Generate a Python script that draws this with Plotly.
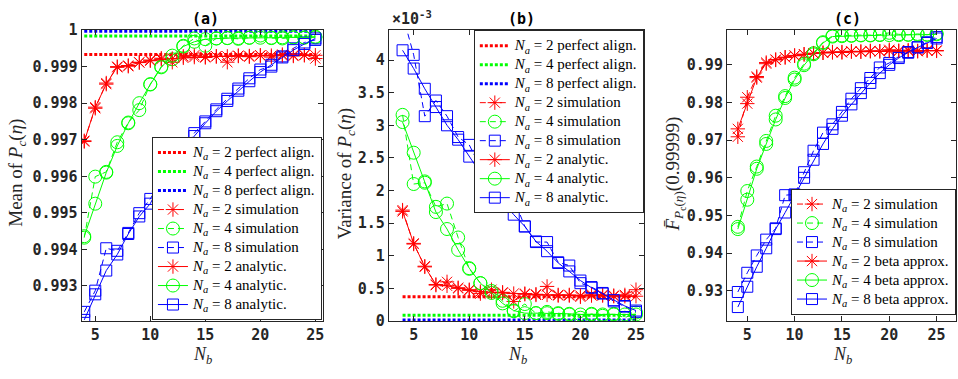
import plotly.graph_objects as go

W, H = 958, 379

Nb = list(range(4, 26))
na_labels = ["2", "4", "8"]
colors = ["#FF0000", "#00FF00", "#0000FF"]
symbols = ["asterisk-open", "circle-open", "square-open"]
msizes = [12, 13, 11]

# ---------- (a) mean of Pc ----------
mean_perfect = [0.99933, 0.99984, 0.99997]
mean_sim_na2 = [0.99697, 0.99786, 0.99855, 0.99898, 0.99901, 0.99912, 0.99918, 0.99923, 0.99912, 0.99928, 0.99931,
                0.99925, 0.99928, 0.99912, 0.99930, 0.99927, 0.99931, 0.99926, 0.99933, 0.99929, 0.99932, 0.99922]
mean_ana_na2 = [0.99695, 0.99789, 0.99852, 0.99900, 0.99903, 0.99911, 0.99916, 0.99920, 0.99922, 0.99924, 0.99926,
                0.99927, 0.99928, 0.99928, 0.99929, 0.99929, 0.99930, 0.99930, 0.99930, 0.99931, 0.99931, 0.99931]
mean_sim_na4 = [0.99432, 0.99599, 0.99612, 0.99693, 0.99747, 0.99781, 0.99852, 0.99900, 0.99920, 0.99957, 0.99977,
                0.99957, 0.99977, 0.99978, 0.99976, 0.99979, 0.99985, 0.99978, 0.99977, 0.99980, 0.99979, 0.99982]
mean_ana_na4 = [0.99436, 0.99525, 0.99610, 0.99683, 0.99745, 0.99800, 0.99851, 0.99898, 0.99930, 0.99955, 0.99968,
                0.99975, 0.99977, 0.99978, 0.99978, 0.99979, 0.99979, 0.99979, 0.99980, 0.99980, 0.99980, 0.99980]
mean_sim_na8 = [0.99229, 0.99287, 0.99403, 0.99396, 0.99445, 0.99499, 0.99538, 0.99590, 0.99640, 0.99668, 0.99718,
                0.99750, 0.99783, 0.99812, 0.99840, 0.99868, 0.99892, 0.99900, 0.99928, 0.99950, 0.99966, 0.99973]
mean_ana_na8 = [0.99207, 0.99277, 0.99342, 0.99386, 0.99442, 0.99490, 0.99525, 0.99586, 0.99630, 0.99670, 0.99710,
                0.99745, 0.99778, 0.99806, 0.99834, 0.99860, 0.99885, 0.99905, 0.99925, 0.99945, 0.99962, 0.99977]

# ---------- (b) variance of Pc (x 1e-3) ----------
var_perfect = [0.37, 0.088, 0.015]
var_sim_na2 = [1.70, 1.18, 0.84, 0.55, 0.60, 0.51, 0.48, 0.42, 0.48, 0.44, 0.30,
               0.42, 0.40, 0.53, 0.39, 0.40, 0.37, 0.41, 0.40, 0.39, 0.40, 0.48]
var_ana_na2 = [1.68, 1.19, 0.83, 0.56, 0.54, 0.50, 0.47, 0.45, 0.44, 0.43, 0.42,
               0.41, 0.41, 0.40, 0.40, 0.39, 0.39, 0.39, 0.39, 0.38, 0.38, 0.38]
var_sim_na4 = [3.16, 2.10, 2.12, 1.75, 1.80, 1.28, 0.80, 0.58, 0.46, 0.31, 0.15,
               0.26, 0.12, 0.14, 0.12, 0.10, 0.05, 0.11, 0.08, 0.11, 0.05, 0.13]
var_ana_na4 = [3.05, 2.58, 2.14, 1.67, 1.41, 1.09, 0.81, 0.58, 0.43, 0.27, 0.16,
               0.12, 0.12, 0.12, 0.11, 0.11, 0.10, 0.10, 0.10, 0.10, 0.10, 0.10]
var_sim_na8 = [4.70, 4.08, 3.14, 3.38, 3.14, 2.82, 2.70, 2.36, 2.06, 1.94, 1.87,
               1.45, 1.21, 1.21, 0.90, 0.85, 0.58, 0.52, 0.43, 0.30, 0.22, 0.14]
var_ana_na8 = [4.15, 3.87, 3.56, 3.28, 3.00, 2.78, 2.52, 2.27, 2.04, 1.84, 1.63,
               1.45, 1.22, 1.07, 0.89, 0.76, 0.62, 0.51, 0.42, 0.32, 0.23, 0.16]

# ---------- (c) F_bar(0.99999) ----------
cdf_sim_na2 = [0.9709, 0.9814, 0.9869, 0.9903, 0.9913, 0.9920, 0.9924, 0.9928, 0.9931, 0.9932, 0.9934,
               0.9933, 0.9936, 0.9935, 0.9937, 0.9936, 0.9940, 0.9937, 0.9939, 0.9936, 0.9938, 0.9937]
cdf_ana_na2 = [0.9730, 0.9797, 0.9866, 0.9906, 0.9914, 0.9920, 0.9925, 0.9928, 0.9930, 0.9932, 0.9933,
               0.9934, 0.9935, 0.9935, 0.9936, 0.9936, 0.9937, 0.9937, 0.9937, 0.9937, 0.9938, 0.9938]
cdf_sim_na4 = [0.9470, 0.9565, 0.9630, 0.9698, 0.9765, 0.9817, 0.9866, 0.9903, 0.9931, 0.9960, 0.9977,
               0.9978, 0.9978, 0.9979, 0.9979, 0.9980, 0.9985, 0.9981, 0.9980, 0.9982, 0.9980, 0.9983]
cdf_ana_na4 = [0.9464, 0.9542, 0.9624, 0.9690, 0.9755, 0.9812, 0.9861, 0.9899, 0.9928, 0.9958, 0.9975,
               0.9976, 0.9977, 0.9978, 0.9978, 0.9979, 0.9979, 0.9979, 0.9980, 0.9980, 0.9980, 0.9981]
cdf_sim_na8 = [0.9297, 0.9348, 0.9394, 0.9436, 0.9466, 0.9554, 0.9556, 0.9615, 0.9672, 0.9720, 0.9742,
               0.9775, 0.9810, 0.9838, 0.9865, 0.9893, 0.9905, 0.9922, 0.9932, 0.9947, 0.9960, 0.9974]
cdf_ana_na8 = [0.9257, 0.9311, 0.9364, 0.9413, 0.9464, 0.9508, 0.9554, 0.9600, 0.9648, 0.9690, 0.9730,
               0.9765, 0.9795, 0.9825, 0.9852, 0.9878, 0.9900, 0.9918, 0.9934, 0.9946, 0.9958, 0.9970]

mean_ticks = [0.992, 0.993, 0.994, 0.995, 0.996, 0.997, 0.998, 0.999, 1.0]
mean_ticktext = ["0.992", "0.993", "0.994", "0.995", "0.996", "0.997", "0.998", "0.999", "1"]
var_ticks = [0, 0.5, 1, 1.5, 2, 2.5, 3, 3.5, 4]
var_ticktext = ["0", "0.5", "1", "1.5", "2", "2.5", "3", "3.5", "4"]
cdf_ticks = [0.93, 0.94, 0.95, 0.96, 0.97, 0.98, 0.99]
cdf_ticktext = ["0.93", "0.94", "0.95", "0.96", "0.97", "0.98", "0.99"]
x_ticks = [5, 10, 15, 20, 25]

AX = "#262626"
MONO = "DejaVu Sans Mono"
SERIF = "Liberation Serif"


def px_x(p):
    return p / W


def px_y(p):
    return 1 - p / H


def lab(na, rest):
    return '<span style="font-size:15px"><i>N<sub>a</sub></i> = %s %s</span>' % (na, rest)


fig = go.Figure()

panels = [
    dict(ax="", leg="legend", perfect=mean_perfect,
         sims=[mean_sim_na2, mean_sim_na4, mean_sim_na8],
         anas=[mean_ana_na2, mean_ana_na4, mean_ana_na8], ana_name="analytic."),
    dict(ax="2", leg="legend2", perfect=var_perfect,
         sims=[var_sim_na2, var_sim_na4, var_sim_na8],
         anas=[var_ana_na2, var_ana_na4, var_ana_na8], ana_name="analytic."),
    dict(ax="3", leg="legend3", perfect=None,
         sims=[cdf_sim_na2, cdf_sim_na4, cdf_sim_na8],
         anas=[cdf_ana_na2, cdf_ana_na4, cdf_ana_na8], ana_name="beta approx."),
]

for p in panels:
    xa, ya = "x" + p["ax"], "y" + p["ax"]
    if p["perfect"] is not None:
        for i in range(3):
            fig.add_trace(go.Scatter(
                x=Nb, y=[p["perfect"][i]] * len(Nb), mode="lines",
                line=dict(color=colors[i], width=3, dash="3px,2px"),
                name=lab(na_labels[i], "perfect align."), xaxis=xa, yaxis=ya, legend=p["leg"]))
    for i in range(3):
        fig.add_trace(go.Scatter(
            x=Nb, y=p["sims"][i], mode="lines+markers",
            line=dict(color=colors[i], width=1, dash="6px,4px"),
            marker=dict(symbol=symbols[i], size=msizes[i], color=colors[i], line=dict(width=1, color=colors[i])),
            name=lab(na_labels[i], "simulation"), xaxis=xa, yaxis=ya, legend=p["leg"]))
    for i in range(3):
        fig.add_trace(go.Scatter(
            x=Nb, y=p["anas"][i], mode="lines+markers",
            line=dict(color=colors[i], width=1),
            marker=dict(symbol=symbols[i], size=msizes[i], color=colors[i], line=dict(width=1, color=colors[i])),
            name=lab(na_labels[i], p["ana_name"]), xaxis=xa, yaxis=ya, legend=p["leg"]))

tick_font = dict(family=MONO, size=15, color=AX, weight="bold")


def axis(**kw):
    d = dict(showline=True, linecolor=AX, linewidth=1, mirror="ticks", ticks="inside",
             ticklen=5, tickcolor=AX, showgrid=False, zeroline=False, tickfont=tick_font)
    d.update(kw)
    return d


top_px, bot_px = 22.7, 327.7
ydom = [px_y(bot_px), px_y(top_px)]

fig.update_layout(
    width=W, height=H, margin=dict(l=0, r=0, t=0, b=0),
    paper_bgcolor="white", plot_bgcolor="white", showlegend=True,
    font=dict(family=MONO, size=15, color=AX),
    xaxis=axis(domain=[px_x(81.7), px_x(323.3)], range=[3.76, 25.69], tickvals=x_ticks, anchor="y"),
    yaxis=axis(domain=ydom, range=[0.99204, 1.00001], tickvals=mean_ticks, ticktext=mean_ticktext, anchor="x"),
    xaxis2=axis(domain=[px_x(389.3), px_x(645)], range=[2.77, 25.75], tickvals=x_ticks, anchor="y2"),
    yaxis2=axis(domain=ydom, range=[0, 4.466], tickvals=var_ticks, ticktext=var_ticktext, anchor="x2"),
    xaxis3=axis(domain=[px_x(727.7), px_x(957)], range=[2.85, 27.05], tickvals=x_ticks, anchor="y3"),
    yaxis3=axis(domain=ydom, range=[0.9220, 0.99933], tickvals=cdf_ticks, ticktext=cdf_ticktext, anchor="x3"),
)

leg_common = dict(bgcolor="white", bordercolor=AX, borderwidth=1, font=dict(family=SERIF, size=12, color="#000000"),
                  tracegroupgap=0, itemwidth=30, itemclick=False)
fig.update_layout(
    legend=dict(x=px_x(322.3), y=px_y(326.7), xanchor="right", yanchor="bottom", **leg_common),
    legend2=dict(x=px_x(644.5), y=px_y(23.2), xanchor="right", yanchor="top", **leg_common),
    legend3=dict(x=px_x(957), y=px_y(255), xanchor="right", yanchor="middle", **leg_common),
)

ann = []
title_font = dict(family=MONO, size=15, color="#000000", weight="bold")
for txt, cx in [("(a)", 206), ("(b)", 522), ("(c)", 848)]:
    ann.append(dict(text=txt, x=px_x(cx), y=px_y(12), xref="paper", yref="paper",
                    showarrow=False, font=title_font, xanchor="center", yanchor="middle"))
xlab_font = dict(family=SERIF, size=18, color=AX)
ylab_font = dict(family=SERIF, size=19, color=AX)
for cx in [202.5, 518, 843]:
    ann.append(dict(text="<i>N<sub>b</sub></i>", x=px_x(cx), y=px_y(364), xref="paper", yref="paper",
                    showarrow=False, font=xlab_font, xanchor="center", yanchor="middle"))
ann.append(dict(text="Mean of <i>P<sub>c</sub></i>(<i>η</i>)", x=px_x(17.5), y=px_y(172), xref="paper", yref="paper",
                showarrow=False, font=ylab_font, textangle=-90, xanchor="center", yanchor="middle"))
ann.append(dict(text="Variance of <i>P<sub>c</sub></i>(<i>η</i>)", x=px_x(346.5), y=px_y(174), xref="paper",
                yref="paper", showarrow=False, font=ylab_font, textangle=-90, xanchor="center", yanchor="middle"))
ann.append(dict(text="<i>F̄</i><sub><i>P</i><sub>c</sub>(<i>η</i>)</sub>(0.99999)",
                x=px_x(676), y=px_y(174),
                xref="paper", yref="paper", showarrow=False, font=ylab_font, textangle=-90,
                xanchor="center", yanchor="middle"))
ann.append(dict(text="×10<sup>-3</sup>", x=px_x(390), y=px_y(10), xref="paper", yref="paper",
                showarrow=False, font=dict(family=MONO, size=15, color=AX, weight="bold"),
                xanchor="left", yanchor="middle"))
fig.update_layout(annotations=ann)

fig.write_html("out.html", config={"displayModeBar": False},
               post_script="document.body.style.margin='0px';document.body.style.overflow='hidden';")
